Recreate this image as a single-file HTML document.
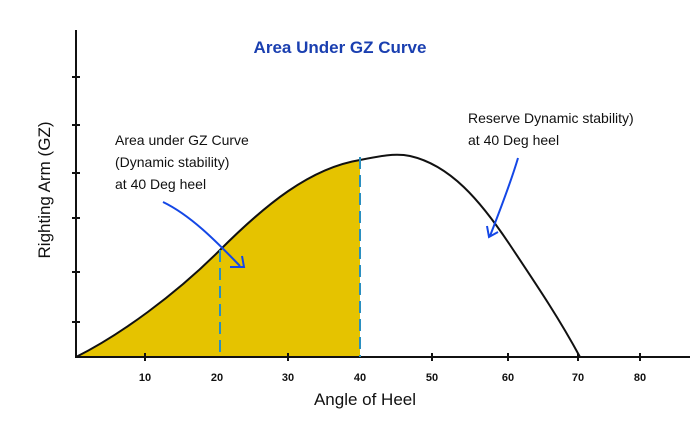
<!DOCTYPE html>
<html><head><style>body{margin:0;background:#fff}svg{display:block}</style></head><body>
<svg width="700" height="431" viewBox="0 0 700 431" xmlns="http://www.w3.org/2000/svg" font-family="Liberation Sans, sans-serif">
<rect width="700" height="431" fill="#fff"/>
<path d="M76,357 C120,335 175,295 220,250 C265,205 310,168 360,160 L360,357 Z" fill="#e5c300"/>
<path d="M76,357 C120,335 175,295 220,250 C265,205 310,168 360,160 C380,156 395,153 410,156 C450,165 480,200 510,245 C540,290 560,320 580,357" fill="none" stroke="#111" stroke-width="2"/>
<line x1="76" y1="30" x2="76" y2="358" stroke="#111" stroke-width="2"/>
<line x1="75" y1="357" x2="690" y2="357" stroke="#111" stroke-width="2"/>
<g stroke="#111" stroke-width="2">
<line x1="72" y1="77" x2="80" y2="77"/><line x1="72" y1="125" x2="80" y2="125"/>
<line x1="72" y1="173" x2="80" y2="173"/><line x1="72" y1="218" x2="80" y2="218"/>
<line x1="72" y1="272" x2="80" y2="272"/><line x1="72" y1="322" x2="80" y2="322"/>
<line x1="145" y1="353" x2="145" y2="361"/><line x1="288" y1="353" x2="288" y2="361"/>
<line x1="432" y1="353" x2="432" y2="361"/><line x1="508" y1="353" x2="508" y2="361"/>
<line x1="578" y1="353" x2="578" y2="361"/><line x1="640" y1="353" x2="640" y2="361"/>
</g>
<g stroke="#2a8fc0" stroke-width="2" stroke-dasharray="12,6">
<line x1="220" y1="250" x2="220" y2="357"/><line x1="360" y1="157" x2="360" y2="357"/>
</g>
<g font-size="11" font-weight="bold" fill="#111" text-anchor="middle">
<text x="145" y="381">10</text><text x="217" y="381">20</text><text x="288" y="381">30</text>
<text x="360" y="381">40</text><text x="432" y="381">50</text><text x="508" y="381">60</text>
<text x="578" y="381">70</text><text x="640" y="381">80</text>
</g>
<text x="340" y="53" font-size="17" font-weight="bold" fill="#1a3fb0" text-anchor="middle">Area Under GZ Curve</text>
<text x="365" y="405" font-size="17" fill="#111" text-anchor="middle">Angle of Heel</text>
<text transform="translate(50,190) rotate(-90)" font-size="17" fill="#111" text-anchor="middle">Righting Arm (GZ)</text>
<g font-size="14" fill="#111">
<text x="115" y="145">Area under GZ Curve</text>
<text x="115" y="167">(Dynamic stability)</text>
<text x="115" y="189">at 40 Deg heel</text>
<text x="468" y="123">Reserve Dynamic stability)</text>
<text x="468" y="145">at 40 Deg heel</text>
</g>
<g stroke="#1447e6" stroke-width="2" fill="none">
<path d="M163,202 C190,215 215,240 240,266"/>
<path d="M230,267 L244,267 L242,256"/>
<path d="M518,158 C510,185 500,210 490,236"/>
<path d="M487,226 L489,237 L498,232"/>
</g>
</svg>
</body></html>
